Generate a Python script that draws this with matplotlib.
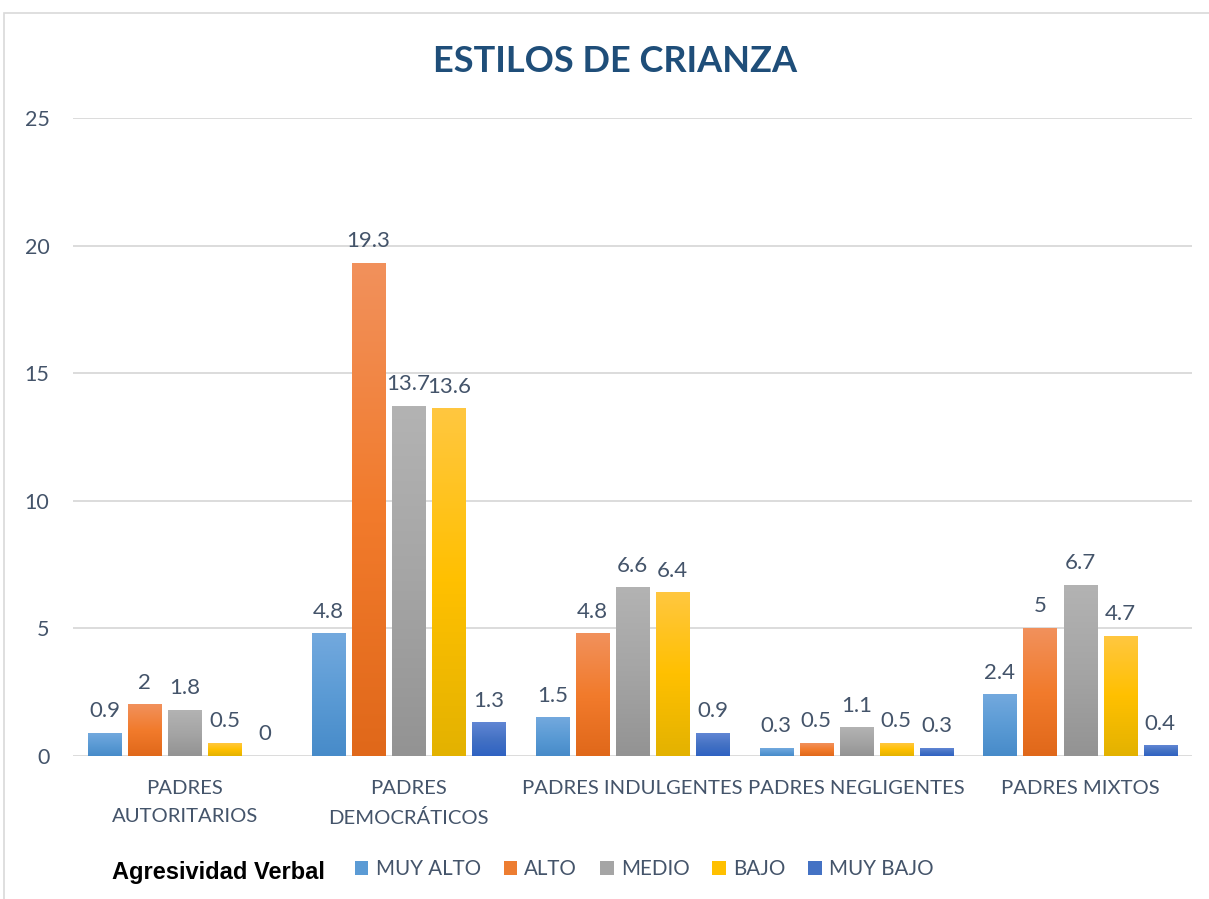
import numpy as np
import matplotlib
matplotlib.use("Agg")
import matplotlib.pyplot as plt
from matplotlib.patches import Rectangle, Patch
from matplotlib.colors import LinearSegmentedColormap

categories = ["PADRES\nAUTORITARIOS", "PADRES\nDEMOCRÁTICOS", "PADRES INDULGENTES",
              "PADRES NEGLIGENTES", "PADRES MIXTOS"]
series_names = ["MUY ALTO", "ALTO", "MEDIO", "BAJO", "MUY BAJO"]
muy_alto = [0.9, 4.8, 1.5, 0.3, 2.4]
alto = [2, 19.3, 4.8, 0.5, 5]
medio = [1.8, 13.7, 6.6, 1.1, 6.7]
bajo = [0.5, 13.6, 6.4, 0.5, 4.7]
muy_bajo = [0, 1.3, 0.9, 0.3, 0.4]
series_values = [muy_alto, alto, medio, bajo, muy_bajo]
value_labels = [["0.9", "4.8", "1.5", "0.3", "2.4"],
                ["2", "19.3", "4.8", "0.5", "5"],
                ["1.8", "13.7", "6.6", "1.1", "6.7"],
                ["0.5", "13.6", "6.4", "0.5", "4.7"],
                ["0", "1.3", "0.9", "0.3", "0.4"]]
yticks = [0, 5, 10, 15, 20, 25]

# gradient stops (top, middle, bottom) per series
grads = [("#73a9de", "#5b9bd5", "#478bc9"),
         ("#f1915c", "#f27b2c", "#e0681a"),
         ("#b3b3b3", "#a5a5a5", "#939393"),
         ("#ffc740", "#ffc000", "#e3b200"),
         ("#6186d4", "#4472c4", "#2f62c2")]
legend_colors = ["#5b9bd5", "#ed7d31", "#a5a5a5", "#ffc000", "#4472c4"]

fig = plt.figure(figsize=(12.09, 8.99), dpi=100)
W, H = 1209, 899
ax = fig.add_axes([73 / W, 1 - 756 / H, (1192 - 73) / W, (756 - 118) / H])

# chart border
fig.patches.append(Rectangle((4 / W, -0.1), 1.2, 1.1 - 13 / H, transform=fig.transFigure,
                             fill=False, edgecolor="#d9d9d9", linewidth=1.2, zorder=0))

x = np.arange(len(categories))
step = 0.179
bw = 0.148
label_color = "#44546a"
for i, vals in enumerate(series_values):
    xs = x + (i - 2) * step
    bars = ax.bar(xs, vals, width=bw, color="none", edgecolor="none", zorder=3)
    cmap = LinearSegmentedColormap.from_list("g%d" % i, list(grads[i][::-1]))
    grad = np.linspace(0, 1, 256).reshape(-1, 1)
    for b, v, lab in zip(bars, vals, value_labels[i]):
        x0, y0 = b.get_x(), b.get_y()
        w, h = b.get_width(), b.get_height()
        if h > 0:
            ax.imshow(grad, cmap=cmap, origin="lower", aspect="auto",
                      extent=(x0, x0 + w, y0, y0 + h), zorder=3, interpolation="bilinear")
        ax.annotate(lab, (x0 + w / 2, h), xytext=(0, 11.5), textcoords="offset points",
                    ha="center", va="baseline", fontsize=16, color=label_color,
                    family="Lato", zorder=4)

ax.set_xlim(-0.5, 4.5)
ax.set_ylim(0, 25)
ax.set_yticks(yticks)
ax.set_yticklabels([str(t) for t in yticks], fontsize=15.5, color=label_color, family="Lato")
ax.set_xticks(x)
ax.set_xticklabels(categories, fontsize=14.6, color=label_color, family="Lato", linespacing=1.8)
ax.tick_params(axis="both", length=0)
ax.tick_params(axis="y", pad=17)
ax.tick_params(axis="x", pad=17)
for s in ax.spines.values():
    s.set_visible(False)
ax.yaxis.grid(True, color="#d9d9d9", linewidth=1.3, zorder=0)
ax.set_axisbelow(True)

fig.text(615 / W, 1 - 61 / H, "ESTILOS DE CRIANZA", ha="center", va="center",
         fontsize=26, fontweight="bold", color="#1f4e79", family="Lato")

fig.text(112 / W, 1 - 873 / H, "Agresividad Verbal", ha="left", va="center",
         fontsize=17, fontweight="bold", color="black", family="Liberation Sans")
handles = [Patch(facecolor=c, edgecolor="none") for c in legend_colors]
leg = fig.legend(handles, series_names, loc="center left", bbox_to_anchor=(355 / W, 1 - 869 / H),
                 ncol=5, frameon=False, handlelength=0.65, handleheight=0.65, handletextpad=0.35,
                 columnspacing=1.12, borderpad=0, borderaxespad=0,
                 prop={"family": "Lato", "size": 14.8})
for t in leg.get_texts():
    t.set_color(label_color)

fig.savefig("out.png", dpi=100)
